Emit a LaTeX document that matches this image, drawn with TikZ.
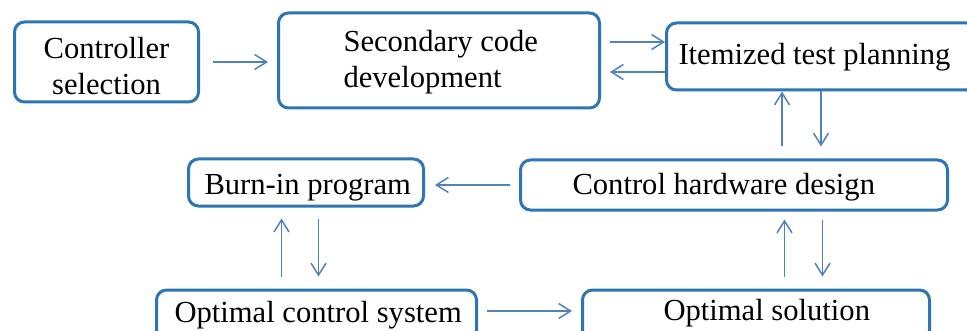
\documentclass[tikz,border=0pt]{standalone}
\usepackage{fontspec}
\setmainfont{Liberation Serif}
\usetikzlibrary{arrows.meta,calc}
\definecolor{boxblue}{RGB}{46,117,182}
\definecolor{arrowblue}{RGB}{79,129,189}
% label of a given width, its text set in from the left edge
\newcommand\boxtext[3]{\makebox[#1][l]{\hspace{#2}#3}}
% two stacked lines whose lower baseline lies #1 below the box centre
\newcommand\twolines[3]{\raisebox{0pt}[#1][0pt]{\begin{tabular}[b]{@{}#2@{}}#3\end{tabular}}}
\begin{document}
\begin{tikzpicture}[x=0.5pt,y=-0.5pt,
  box/.style={draw=boxblue, line width=1.5pt, rounded corners=5pt, inner sep=0pt, anchor=west,
    font=\fontsize{15.3}{18.25}\selectfont, text=black, text depth=0pt},
  arr/.style={draw=arrowblue, line width=0.75pt, -{Straight Barb[length=6pt,width=7.5pt]}}]
\useasboundingbox (0,0) rectangle (967,331);
\clip (0,0) rectangle (967,331);

% process steps
\node[box, minimum height=40pt] (sel) at (13,62)
  {\makebox[92pt]{\twolines{33pt}{c}{Controller\\selection}}};
\node[box, minimum height=47.5pt] (sec) at (277,60.5)
  {\boxtext{160.5pt}{32.5pt}{\twolines{27.5pt}{l}{Secondary code\\development}}};
\node[box, minimum height=33.5pt, text height=8.5pt] (itm) at (665,56.5)
  {\boxtext{155pt}{6pt}{Itemized test planning}};
\node[box, minimum height=25pt, text height=10pt] (hw) at (519,185)
  {\boxtext{213.5pt}{26pt}{Control hardware design}};
\node[box, minimum height=23.5pt, text height=12.3pt] (bip) at (187,182.5)
  {\boxtext{117.5pt}{8pt}{Burn-in program}};
\node[box, minimum height=25pt, text height=7pt] (ocs) at (155,315)
  {\boxtext{160pt}{9pt}{Optimal control system}};
\node[box, minimum height=25pt, text height=5pt] (sol) at (581,315)
  {\boxtext{173.5pt}{40.5pt}{Optimal solution}};

% top row
\draw[arr] ($(sel.east)+(6.5pt,0)$) -- ($(sel.east -| sec.west)+(-4.5pt,0)$);
\draw[arr] ($(itm.west -| sec.east)+(4.5pt,7.25pt)$) -- ($(itm.west)+(0,7.25pt)$);
\draw[arr] ($(itm.west)+(0,-7.75pt)$) -- ($(itm.west -| sec.east)+(4.5pt,-7.75pt)$);

% test planning <-> hardware design
\draw[arr] ($(hw.north -| itm.west)+(58.5pt,6pt)$) -- ($(itm.south west)+(58.5pt,0)$);
\draw[arr] ($(itm.south west)+(78pt,0)$) -- ($(hw.north -| itm.west)+(78pt,6pt)$);

% hardware design -> burn-in
\draw[arr] ($(hw.west)+(-4.5pt,0)$) -- ($(hw.west -| bip.east)+(5pt,0)$);

% burn-in <-> optimal control system
\draw[arr] ($(ocs.north -| bip.south)+(-12.25pt,6pt)$) -- ($(bip.south)+(-12.25pt,-5.5pt)$);
\draw[arr] ($(bip.south)+(6.25pt,-5.5pt)$) -- ($(ocs.north -| bip.south)+(6.25pt,6pt)$);

% hardware design <-> optimal solution
\draw[arr] ($(sol.north -| hw.south)+(25.25pt,6pt)$) -- ($(hw.south)+(25.25pt,-4pt)$);
\draw[arr] ($(hw.south)+(44.25pt,-4pt)$) -- ($(sol.north -| hw.south)+(44.25pt,6pt)$);

% optimal control system -> optimal solution
\draw[arr] ($(ocs.east)+(4.5pt,2pt)$) -- ($(ocs.east -| sol.west)+(-4.5pt,2pt)$);
\end{tikzpicture}
\end{document}
